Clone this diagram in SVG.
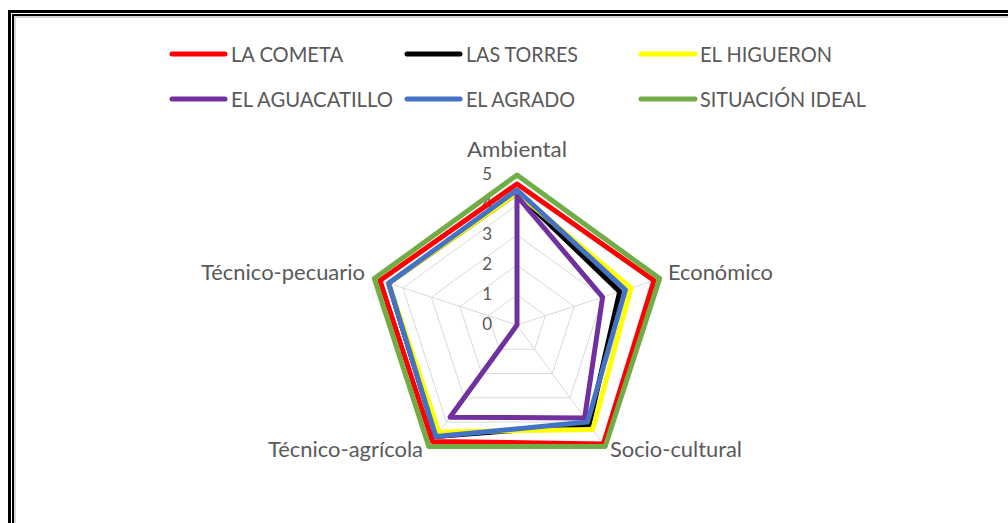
<svg xmlns="http://www.w3.org/2000/svg" width="1008" height="523" viewBox="0 0 1008 523">
<style>
  text { font-family: Lato, "Open Sans", "Liberation Sans", sans-serif; fill: #595959; }
  .leg { font-size: 21px; }
  .ax { font-size: 21px; }
  .val { font-size: 17px; text-anchor: end; }
  .grid { fill: none; stroke: #D9D9D9; stroke-width: 1; }
  .s { fill: none; stroke-width: 5; stroke-linejoin: round; }
  .ll { stroke-width: 5; stroke-linecap: round; }
</style>
<rect x="0" y="0" width="1008" height="523" fill="#ffffff"/>
<g id="frame" fill="none">
  <rect x="9.5" y="11.5" width="1100" height="1000" stroke="#000000" stroke-width="3"/>
  <rect x="13" y="15" width="1100" height="1000" stroke="#000000" stroke-width="2"/>
  <rect x="15" y="17" width="1100" height="1000" stroke="#D6D6D6" stroke-width="2"/>
</g>
<g id="legend">
  <g id="leg-cometa"><line class="ll" x1="172" y1="54" x2="225" y2="54" stroke="#FF0000"/><text class="leg" x="231" y="62" textLength="112" lengthAdjust="spacingAndGlyphs">LA COMETA</text></g>
  <g id="leg-torres"><line class="ll" x1="407" y1="54" x2="460" y2="54" stroke="#000000"/><text class="leg" x="466" y="62" textLength="112" lengthAdjust="spacingAndGlyphs">LAS TORRES</text></g>
  <g id="leg-higueron"><line class="ll" x1="641" y1="54" x2="695" y2="54" stroke="#FFFF00"/><text class="leg" x="700" y="62" textLength="132" lengthAdjust="spacingAndGlyphs">EL HIGUERON</text></g>
  <g id="leg-aguacatillo"><line class="ll" x1="172" y1="99" x2="225" y2="99" stroke="#7030A0"/><text class="leg" x="231" y="107" textLength="162" lengthAdjust="spacingAndGlyphs">EL AGUACATILLO</text></g>
  <g id="leg-agrado"><line class="ll" x1="407" y1="99" x2="460" y2="99" stroke="#4472C4"/><text class="leg" x="466" y="107" textLength="109" lengthAdjust="spacingAndGlyphs">EL AGRADO</text></g>
  <g id="leg-ideal"><line class="ll" x1="641" y1="99" x2="695" y2="99" stroke="#70AD47"/><text class="leg" x="700" y="107" textLength="166" lengthAdjust="spacingAndGlyphs">SITUACIÓN IDEAL</text></g>
</g>
<g id="grid">
  <polygon class="grid" points="517,295 545.5,315.7 534.6,349.3 499.4,349.3 488.5,315.7"/>
  <polygon class="grid" points="517,265 574.1,306.5 552.3,373.5 481.7,373.5 459.9,306.5"/>
  <polygon class="grid" points="517,235 602.6,297.2 569.9,397.8 464.1,397.8 431.4,297.2"/>
  <polygon class="grid" points="517,205 631.1,287.9 587.5,422.1 446.5,422.1 402.9,287.9"/>
  <polygon class="grid" points="517,175 659.7,278.6 605.2,446.4 428.8,446.4 374.3,278.6"/>
  <path class="grid" d="M517,325 L517,175 M517,325 L659.7,278.6 M517,325 L605.2,446.4 M517,325 L428.8,446.4 M517,325 L374.3,278.6"/>
</g>
<g id="values">
  <text class="val" x="492" y="180">5</text>
  <text class="val" x="492" y="210">4</text>
  <text class="val" x="492" y="240">3</text>
  <text class="val" x="492" y="270">2</text>
  <text class="val" x="492" y="300">1</text>
  <text class="val" x="492" y="330">0</text>
</g>
<g id="axis-labels">
  <text class="ax" x="467" y="157" textLength="100" lengthAdjust="spacingAndGlyphs">Ambiental</text>
  <text class="ax" x="668" y="280" textLength="105" lengthAdjust="spacingAndGlyphs">Económico</text>
  <text class="ax" x="610" y="457" textLength="132" lengthAdjust="spacingAndGlyphs">Socio-cultural</text>
  <text class="ax" x="268" y="457" textLength="155" lengthAdjust="spacingAndGlyphs">Técnico-agrícola</text>
  <text class="ax" x="201" y="280" textLength="164" lengthAdjust="spacingAndGlyphs">Técnico-pecuario</text>
</g>
<g id="series">
  <polygon id="s-cometa" class="s" stroke="#FF0000" points="517,184 654,280.5 603.4,443.9 432.4,441.5 380,280.5"/>
  <polygon id="s-torres" class="s" stroke="#000000" points="517,193 619.7,291.6 589.3,424.5 435.9,436.6 388.6,283.3"/>
  <polygon id="s-higueron" class="s" stroke="#FFFF00" points="517,193 631.1,287.9 592.8,429.4 439,432 388.6,283.3"/>
  <polygon id="s-aguacatillo" class="s" stroke="#7030A0" points="517,196 602.6,297.2 584.6,418 450,417.2 517,325"/>
  <polygon id="s-agrado" class="s" stroke="#4472C4" points="517,190 625.4,289.8 587.5,422.1 435.9,436.6 388.6,283.3"/>
  <polygon id="s-ideal" class="s" stroke="#70AD47" points="517,175 659.7,278.6 605.2,446.4 428.8,446.4 374.3,278.6"/>
</g>
</svg>
